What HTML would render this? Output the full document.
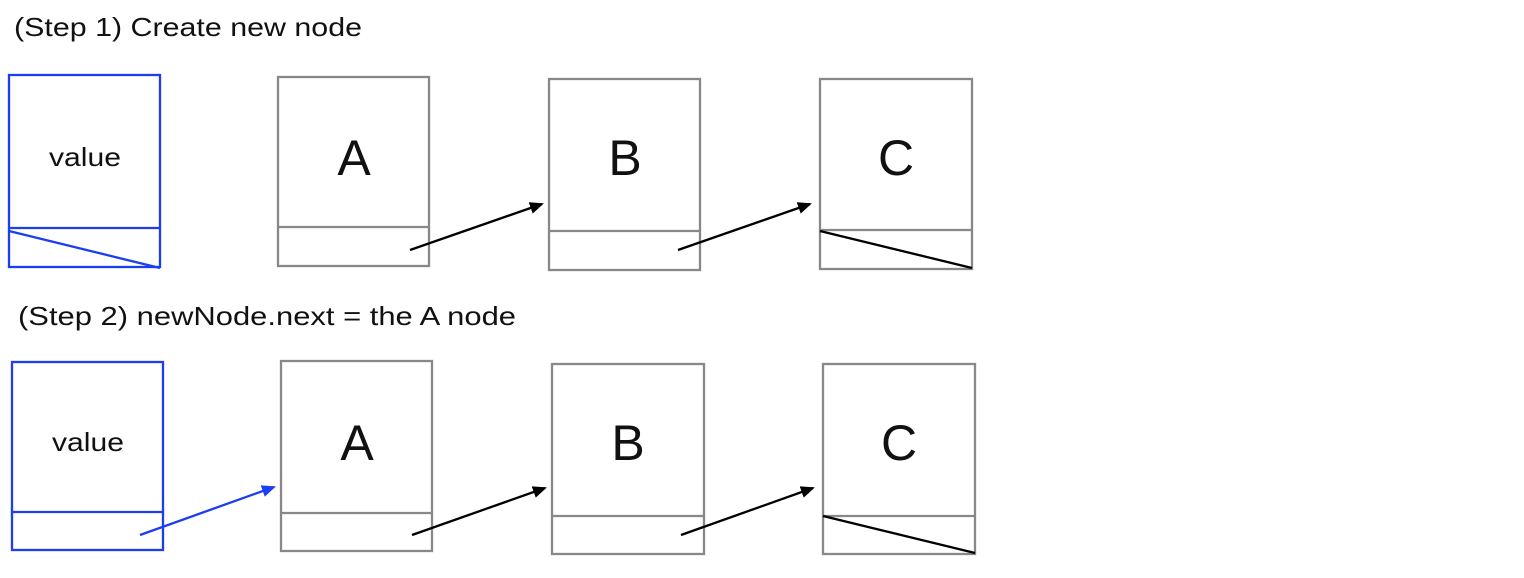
<!DOCTYPE html>
<html><head><meta charset="utf-8"><style>
html,body{margin:0;padding:0;background:#fff;}
svg{display:block;}
text{font-family:"Liberation Sans",sans-serif;fill:#111;}
</style></head><body>
<svg width="1524" height="578" viewBox="0 0 1524 578">
<defs>
<marker id="ah" markerWidth="14" markerHeight="12" refX="12" refY="6" orient="auto" markerUnits="userSpaceOnUse"><path d="M0,0 L14,6 L0,12 z" fill="#000"/></marker>
<marker id="ahb" markerWidth="14" markerHeight="12" refX="12" refY="6" orient="auto" markerUnits="userSpaceOnUse"><path d="M0,0 L14,6 L0,12 z" fill="#1a3ef0"/></marker>
</defs>
<g fill="none" stroke-width="2.3">
<!-- Step 1 -->
<text x="14" y="36" font-size="26" textLength="348" lengthAdjust="spacingAndGlyphs" stroke="none">(Step 1) Create new node</text>
<g stroke="#1a3ef0">
<rect x="9" y="75" width="151" height="192"/><line x1="9" y1="228" x2="160" y2="228"/><line x1="9" y1="231" x2="160" y2="268"/>
</g>
<text x="49" y="166" font-size="26" textLength="72" lengthAdjust="spacingAndGlyphs" stroke="none">value</text>
<g stroke="#888"><rect x="278" y="77" width="151" height="189"/><line x1="278" y1="227" x2="429" y2="227"/></g>
<text x="354" y="175" font-size="50" text-anchor="middle" stroke="none">A</text>
<line x1="410" y1="250" x2="542" y2="204" stroke="#000" marker-end="url(#ah)"/>
<g stroke="#888"><rect x="549" y="79" width="151" height="191"/><line x1="549" y1="231" x2="700" y2="231"/></g>
<text x="625" y="175" font-size="50" text-anchor="middle" stroke="none">B</text>
<line x1="678" y1="250" x2="810" y2="204" stroke="#000" marker-end="url(#ah)"/>
<g stroke="#888"><rect x="820" y="79" width="152" height="190"/><line x1="820" y1="230" x2="972" y2="230"/></g>
<line x1="820" y1="231" x2="972" y2="268" stroke="#000"/>
<text x="896" y="175" font-size="50" text-anchor="middle" stroke="none">C</text>

<!-- Step 2 -->
<text x="18" y="325" font-size="26" textLength="498" lengthAdjust="spacingAndGlyphs" stroke="none">(Step 2) newNode.next = the A node</text>
<g stroke="#1a3ef0">
<rect x="12" y="362" width="151" height="188"/><line x1="12" y1="512" x2="163" y2="512"/></g>
<text x="52" y="451" font-size="26" textLength="72" lengthAdjust="spacingAndGlyphs" stroke="none">value</text>
<line x1="140" y1="535" x2="274" y2="487" stroke="#1a3ef0" marker-end="url(#ahb)"/>
<g stroke="#888"><rect x="281" y="361" width="151" height="190"/><line x1="281" y1="513" x2="432" y2="513"/></g>
<text x="357" y="460" font-size="50" text-anchor="middle" stroke="none">A</text>
<line x1="412" y1="535" x2="545" y2="488" stroke="#000" marker-end="url(#ah)"/>
<g stroke="#888"><rect x="552" y="364" width="152" height="190"/><line x1="552" y1="516" x2="704" y2="516"/></g>
<text x="628" y="460" font-size="50" text-anchor="middle" stroke="none">B</text>
<line x1="681" y1="535" x2="813" y2="488" stroke="#000" marker-end="url(#ah)"/>
<g stroke="#888"><rect x="823" y="364" width="152" height="190"/><line x1="823" y1="516" x2="975" y2="516"/></g>
<line x1="823" y1="516" x2="975" y2="553" stroke="#000"/>
<text x="899" y="460" font-size="50" text-anchor="middle" stroke="none">C</text>
</g>
</svg>
</body></html>
